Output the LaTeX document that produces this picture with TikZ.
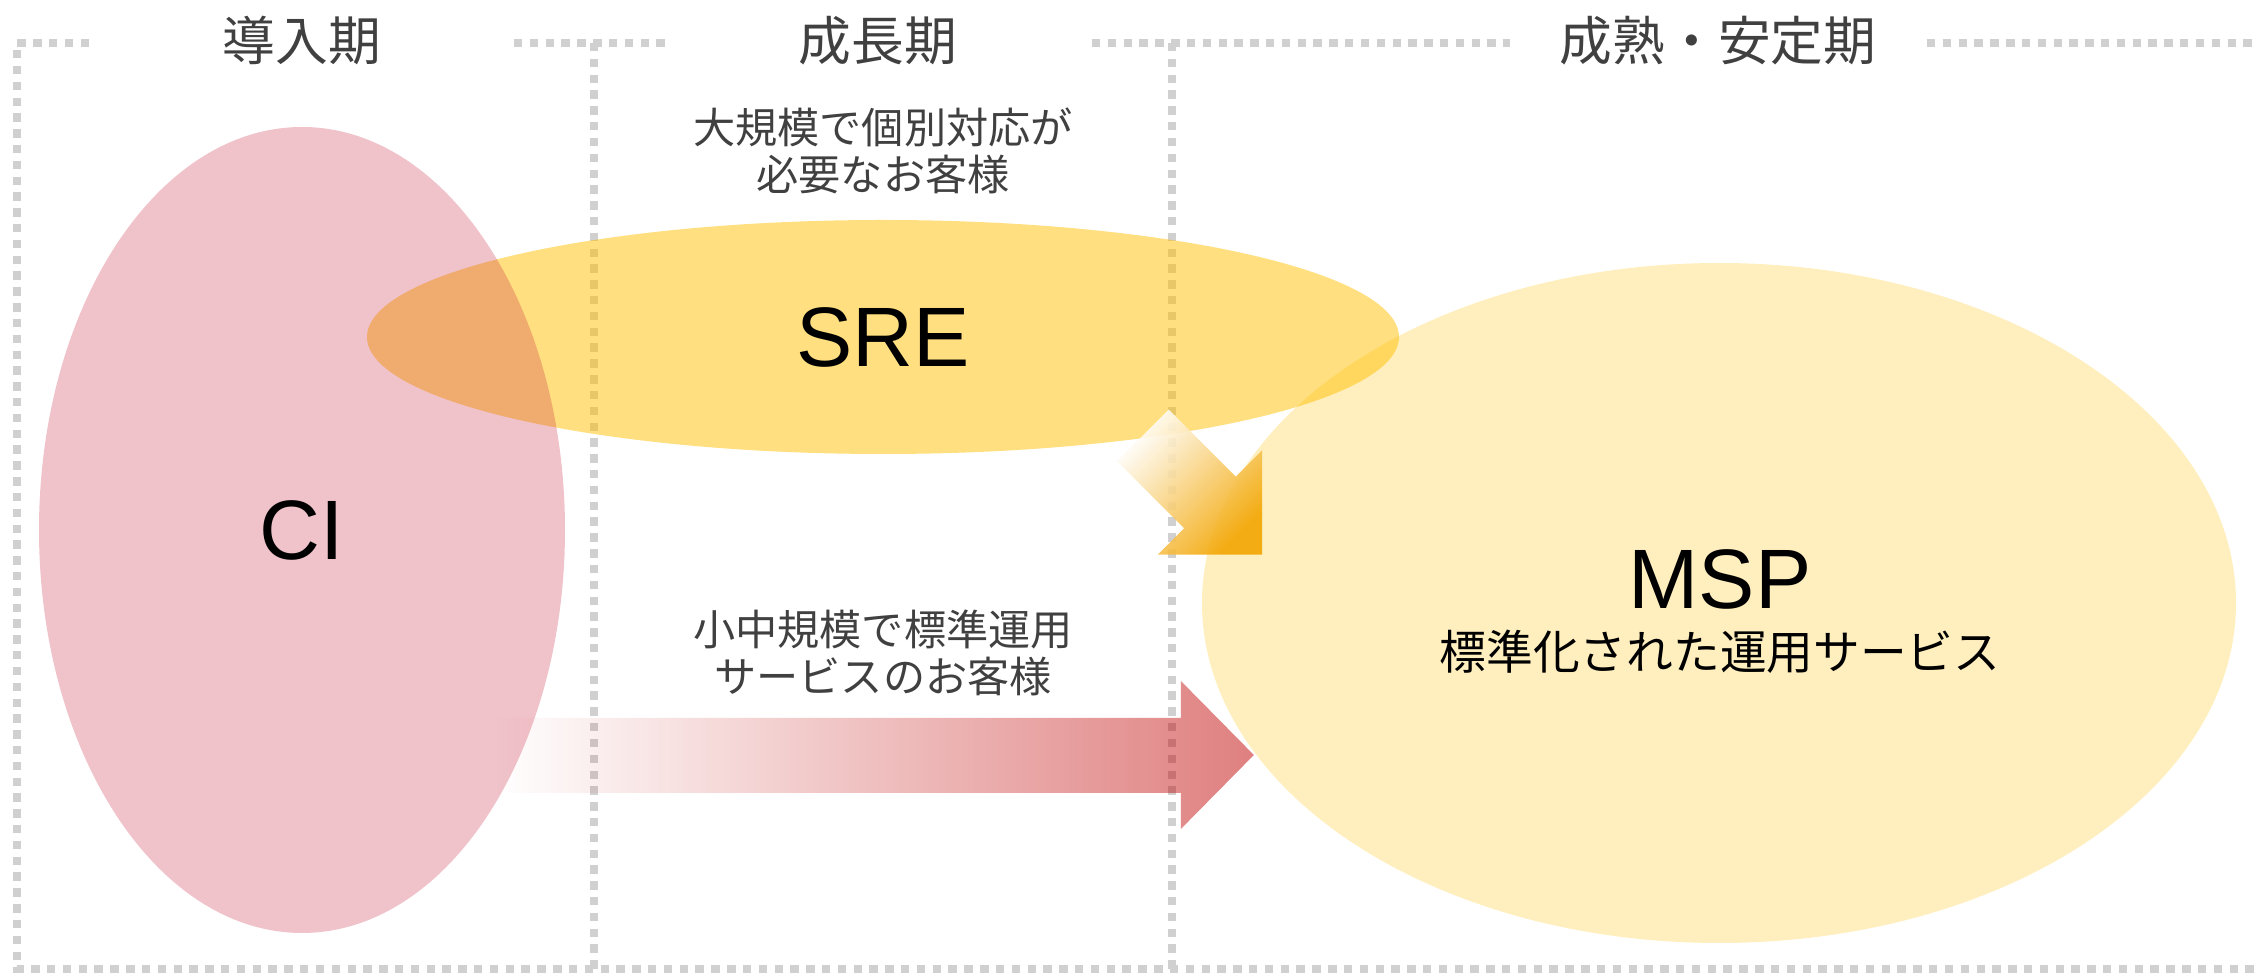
\documentclass[tikz,border=0pt]{standalone}
\usepackage{fontspec}
\setmainfont{Liberation Sans}
\newfontfamily\jpfont{Noto Sans CJK JP}
\usetikzlibrary{shapes.geometric,fadings}

\definecolor{dotgray}{RGB}{208,208,208}
\definecolor{txtgray}{RGB}{64,64,64}
\definecolor{gold}{RGB}{255,192,0}
\definecolor{cipink}{RGB}{200,37,65}
\definecolor{arrowred}{RGB}{192,0,0}
\definecolor{arrowgold}{RGB}{242,165,0}

\tikzfading[name=fadeleft, left color=transparent!100, right color=transparent!0]

\tikzset{
  dotline/.style={dotgray, line width=2.1pt, dash pattern=on 2.4pt off 2.1pt},
  phase/.style={text=txtgray, font=\jpfont\fontsize{15}{18}\selectfont},
  note/.style={text=txtgray, align=center, font=\jpfont\fontsize{12}{13.6}\selectfont},
  blob/.style={ellipse, inner sep=0pt, text opacity=1, font=\fontsize{24}{28}\selectfont},
}

\begin{document}
\begin{tikzpicture}[x=0.1mm, y=-0.1mm]
  \useasboundingbox (0,0) rectangle (2257,973);

  % phase frames
  \draw[dotline] (89,43) -- (17,43) -- (17,969) -- (2257,969);
  \draw[dotline] (514,43) -- (666,43);
  \draw[dotline] (594,43) -- (594,969);
  \draw[dotline] (1092,43) -- (1510,43);
  \draw[dotline] (1172,43) -- (1172,969);
  \draw[dotline] (1927,43) -- (2257,43);

  \node[phase] (intro) at (302,41) {導入期};
  \node[phase] (growth) at (878,41) {成長期};
  \node[phase] (mature) at (1718,41) {成熟・安定期};

  % services
  \node[blob, minimum width=103.4mm, minimum height=68mm, fill=gold, fill opacity=0.25] (msp) at (1719,603) {};
  \node[blob, minimum width=103.2mm, minimum height=23.4mm, fill=gold, fill opacity=0.5] (sre) at (883,337) {SRE};
  \node[blob, minimum width=52.6mm, minimum height=80.6mm, fill=cipink, fill opacity=0.28] (ci) at (302,530) {CI};

  % arrows
  \fill[arrowred, fill opacity=0.5, path fading=fadeleft]
    (497,718) -- (1181,718) -- (1181,681) -- (1254,755) -- (1181,829) -- (1181,793) -- (497,793) -- cycle;
  \shade[top color=white, bottom color=arrowgold, shading angle=45, opacity=0.9]
    (1117.2,461.3) -- (1184.1,528.2) -- (1157.6,554.7) -- (1262.2,554.7)
    -- (1262.2,450.1) -- (1235.7,476.6) -- (1168.8,409.7) -- cycle;

  \node[note] (large) at (883,151) {大規模で個別対応が\\必要なお客様};
  \node[note] (small) at (883,653) {小中規模で標準運用\\サービスのお客様};
  \node[font=\fontsize{24}{28}\selectfont] (msplbl) at (1720,579) {MSP};
  \node[font=\jpfont\fontsize{13.3}{16}\selectfont] (mspsub) at (1720,652) {標準化された運用サービス};
\end{tikzpicture}
\end{document}
